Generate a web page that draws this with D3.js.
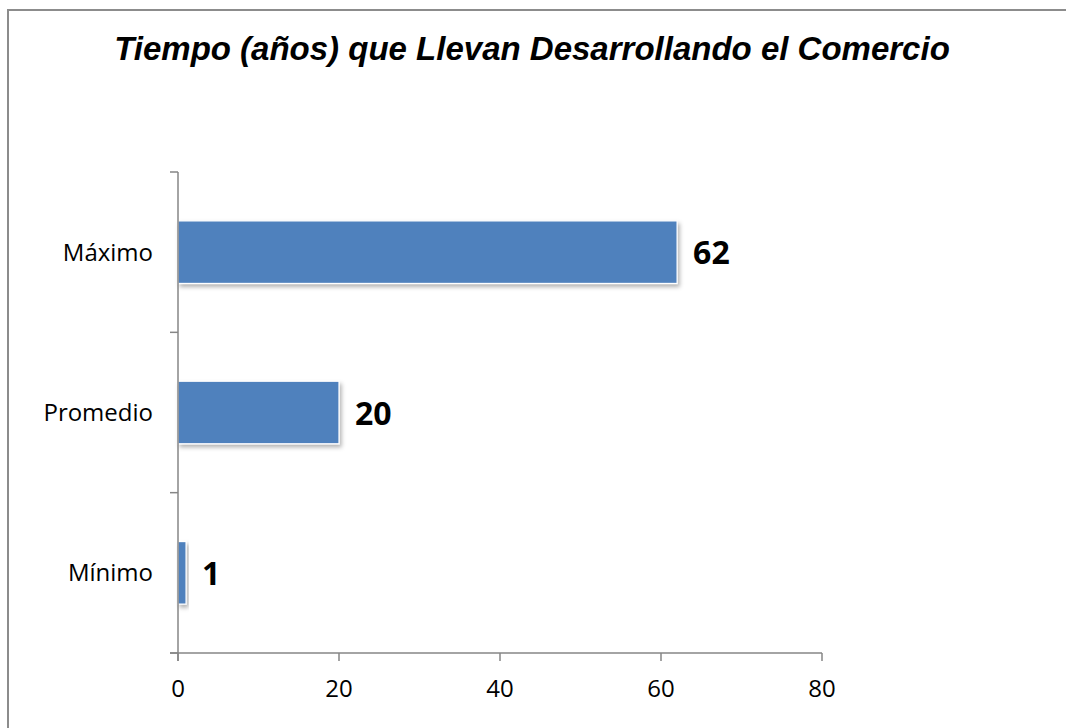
<!DOCTYPE html>
<html lang="es">
<head>
  <meta charset="UTF-8">
  <title>Tiempo que llevan desarrollando el comercio</title>
  <script src="https://d3js.org/d3.v7.min.js"></script>
  <style>
    body { margin: 0; background: #fff; }
    .cat { font-family: "Open Sans", "Noto Sans", sans-serif; font-size: 24px; fill: #000; }
    .tick-lbl { font-family: "Open Sans", "Noto Sans", sans-serif; font-size: 24px; fill: #000; }
    .val { font-family: "Open Sans", "Noto Sans", sans-serif; font-size: 32px; font-weight: bold; fill: #000; }
    .title { font-family: "Liberation Sans", Arial, sans-serif; font-size: 33px; font-weight: bold; font-style: italic; }
  </style>
</head>
<body>
<svg width="1066" height="728"></svg>
<script>
  const categories = ["Máximo", "Promedio", "Mínimo"];
  const values = [62, 20, 1];
  const xTicks = [0, 20, 40, 60, 80];

  const svg = d3.select("svg");

  // chart frame (only left/top edges fall inside the picture)
  svg.append("rect")
    .attr("x", 8).attr("y", 10)
    .attr("width", 1080).attr("height", 740)
    .attr("fill", "#fff")
    .attr("stroke", "#8c8c8c")
    .attr("stroke-width", 2);

  svg.append("text")
    .attr("class", "title")
    .attr("x", 532).attr("y", 60)
    .attr("text-anchor", "middle")
    .text("Tiempo (años) que Llevan Desarrollando el Comercio");

  const defs = svg.append("defs");
  const f = defs.append("filter").attr("id", "shadow")
    .attr("x", "-20%").attr("y", "-20%").attr("width", "150%").attr("height", "150%");
  f.append("feDropShadow")
    .attr("dx", 2).attr("dy", 3).attr("stdDeviation", 2)
    .attr("flood-color", "#000").attr("flood-opacity", 0.3);

  const plotL = 178, plotR = 822, plotT = 172, plotB = 653;

  const x = d3.scaleLinear().domain([0, 80]).range([plotL, plotR]);
  const y = d3.scaleBand().domain(categories).range([plotT, plotB]).paddingInner(0.61).paddingOuter(0.305);
  const yTicks = d3.scaleBand().domain(categories).range([plotT, plotB]);

  const axisColor = "#868686";

  // bars
  svg.selectAll(".bar")
    .data(categories)
    .enter()
    .append("rect")
    .attr("class", "bar")
    .attr("x", x(0))
    .attr("y", d => y(d))
    .attr("width", (d, i) => x(values[i]) - x(0))
    .attr("height", y.bandwidth())
    .attr("fill", "#4f81bd")
    .attr("stroke", "#fff")
    .attr("stroke-width", 1.2)
    .attr("filter", "url(#shadow)");

  // y axis line and ticks
  svg.append("line")
    .attr("x1", plotL).attr("x2", plotL)
    .attr("y1", plotT).attr("y2", plotB + 8)
    .attr("stroke", axisColor).attr("stroke-width", 1.5);
  const yt = categories.map(c => yTicks(c)).concat([plotB]);
  svg.selectAll(".ytick")
    .data(yt)
    .enter()
    .append("line")
    .attr("x1", plotL - 8).attr("x2", plotL)
    .attr("y1", d => d).attr("y2", d => d)
    .attr("stroke", axisColor).attr("stroke-width", 1.5);

  // x axis line and ticks
  svg.append("line")
    .attr("x1", plotL - 8).attr("x2", plotR)
    .attr("y1", plotB).attr("y2", plotB)
    .attr("stroke", axisColor).attr("stroke-width", 1.5);
  svg.selectAll(".xtick")
    .data(xTicks)
    .enter()
    .append("line")
    .attr("x1", d => x(d)).attr("x2", d => x(d))
    .attr("y1", plotB).attr("y2", plotB + 8)
    .attr("stroke", axisColor).attr("stroke-width", 1.5);

  svg.selectAll(".tick-lbl")
    .data(xTicks)
    .enter()
    .append("text")
    .attr("class", "tick-lbl")
    .attr("x", d => x(d))
    .attr("y", 697)
    .attr("text-anchor", "middle")
    .text(d => d);

  // category labels
  svg.selectAll(".cat")
    .data(categories)
    .enter()
    .append("text")
    .attr("class", "cat")
    .attr("x", 153)
    .attr("y", d => y(d) + y.bandwidth() / 2)
    .attr("dy", "0.35em")
    .attr("text-anchor", "end")
    .text(d => d);

  // value labels
  svg.selectAll(".val")
    .data(categories)
    .enter()
    .append("text")
    .attr("class", "val")
    .attr("x", (d, i) => x(values[i]) + 16)
    .attr("y", d => y(d) + y.bandwidth() / 2)
    .attr("dy", "0.38em")
    .text((d, i) => values[i]);
</script>
</body>
</html>
